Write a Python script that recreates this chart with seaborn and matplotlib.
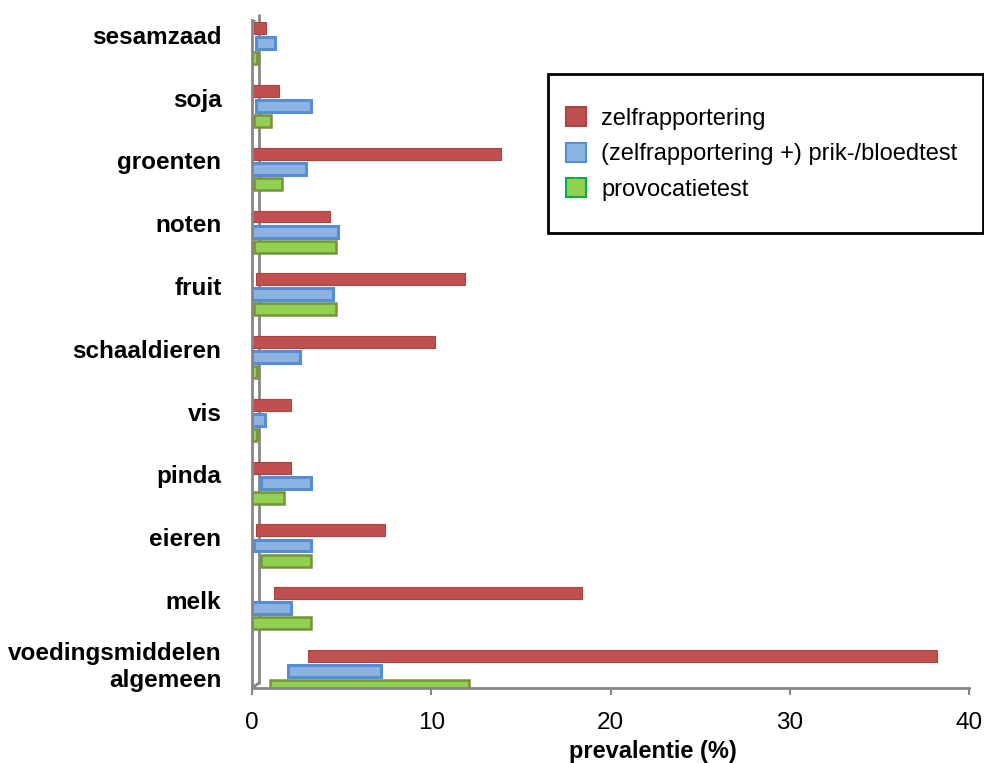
import matplotlib
matplotlib.use("Agg")
import matplotlib.pyplot as plt
import matplotlib.transforms as mtransforms
from matplotlib.patches import Patch, Rectangle
from matplotlib.lines import Line2D
import seaborn as sns
import pandas as pd

# Food categories, top to bottom
categories = ["sesamzaad", "soja", "groenten", "noten", "fruit", "schaaldieren",
              "vis", "pinda", "eieren", "melk", "voedingsmiddelen\nalgemeen"]

methods = ["zelfrapportering", "(zelfrapportering +) prik-/bloedtest", "provocatietest"]

# Prevalence ranges (%) per method: lower and upper bound
self_lo = [0.1, 0.05, 0.05, 0.05, 0.25, 0.05, 0.05, 0.05, 0.2, 1.2, 3.1]
self_hi = [0.8, 1.5, 13.9, 4.35, 11.9, 10.2, 2.2, 2.2, 7.4, 18.4, 38.2]
blood_lo = [0.2, 0.2, 0.0, 0.0, 0.0, 0.0, 0.0, 0.5, 0.1, 0.0, 2.0]
blood_hi = [1.3, 3.3, 3.0, 4.8, 4.5, 2.7, 0.7, 3.3, 3.3, 2.2, 7.2]
prov_lo = [0.0, 0.1, 0.1, 0.1, 0.1, 0.0, 0.0, 0.0, 0.5, 0.0, 1.0]
prov_hi = [0.3, 1.05, 1.7, 4.7, 4.7, 0.3, 0.3, 1.8, 3.3, 3.3, 12.1]

x_ticks = [0, 10, 20, 30, 40]

face_colors = ["#C0504D", "#8DB3E2", "#92D050"]
edge_colors = ["#A84442", "#558ED5", "#76923C"]
edge_widths = [0.8, 2.2, 1.8]
legend_edges = ["#A84442", "#558ED5", "#00B050"]

lows = [self_lo, blood_lo, prov_lo]
highs = [self_hi, blood_hi, prov_hi]

rows = []
for m, lo, hi in zip(methods, lows, highs):
    for c, a, b in zip(categories, lo, hi):
        rows.append({"categorie": c, "methode": m, "start": a, "eind": b})
df = pd.DataFrame(rows)

sns.set_theme(style="white")
plt.rcParams["font.family"] = ["Liberation Sans", "DejaVu Sans"]
plt.rcParams["text.color"] = "black"
plt.rcParams["xtick.color"] = "black"
plt.rcParams["ytick.color"] = "black"
plt.rcParams["axes.labelcolor"] = "black"

fig = plt.figure(figsize=(9.84, 7.63), dpi=100)
W, H = 984, 763
ax = fig.add_axes([252 / W, 1 - 688 / H, (969 - 252) / W, (688 - 20) / H])

# Back wall of the pseudo-3D frame (drawn beneath the bars)
back = ax.transAxes + mtransforms.ScaledTranslation(7 / 100, 5 / 100, fig.dpi_scale_trans)
ax.add_line(Line2D([0, 0], [0.0, 1.0], transform=back, color="#868686",
                   lw=2, clip_on=False, zorder=0.5))

sns.barplot(data=df, x="eind", y="categorie", hue="methode",
            order=categories, hue_order=methods, palette=face_colors,
            saturation=1, width=0.72, orient="h", legend=False, ax=ax)

# Turn the bars into floating range bars (start .. end)
bar_h = 0.19
for k, cont in enumerate(ax.containers):
    for i, p in enumerate(cont.patches):
        cy = p.get_y() + p.get_height() / 2
        p.set_x(lows[k][i])
        p.set_width(highs[k][i] - lows[k][i])
        p.set_y(cy - bar_h / 2)
        p.set_height(bar_h)
        p.set_edgecolor(edge_colors[k])
        p.set_linewidth(edge_widths[k])
        p.set_zorder(2)

ax.set_xlim(0, 40)
ax.set_ylim(10.27, -0.37)
ax.set_xticks(x_ticks)
ax.set_xticklabels([str(t) for t in x_ticks], fontsize=17.5)
ax.set_ylabel("")
ax.set_xlabel("prevalentie (%)", fontsize=17, fontweight="bold")
ax.xaxis.set_label_coords(0.559, -0.078)

ax.tick_params(axis="x", direction="out", length=5, width=1.5, color="#868686",
               pad=12, bottom=True)
ax.tick_params(axis="y", length=0, pad=22)
for lab in ax.get_yticklabels():
    lab.set_fontsize(17.5)
    lab.set_fontweight("bold")
    lab.set_transform(lab.get_transform() +
                      mtransforms.ScaledTranslation(0, 6 / 72, fig.dpi_scale_trans))

for s in ["top", "right"]:
    ax.spines[s].set_visible(False)
for s in ["left", "bottom"]:
    ax.spines[s].set_color("#868686")
    ax.spines[s].set_linewidth(2)

ax.add_line(Line2D([252 / W, 259 / W], [1 - 22 / H, 1 - 17 / H],
                   transform=fig.transFigure, color="#868686", lw=2))
ax.add_line(Line2D([252 / W, 259 / W], [1 - 688 / H, 1 - 683 / H],
                   transform=fig.transFigure, color="#868686", lw=2))

# Legend with its own frame
fig.patches.append(Rectangle((548 / W, 1 - 233 / H), (983 - 548) / W, (233 - 74) / H,
                             transform=fig.transFigure, fill=False,
                             edgecolor="black", lw=2))
handles = [Patch(facecolor=f, edgecolor=e, lw=1.5, label=m)
           for f, e, m in zip(face_colors, legend_edges, methods)]
fig.legend(handles=handles, loc="upper left",
           bbox_to_anchor=(545 / W, 1 - 86 / H), frameon=False, fontsize=17,
           handlelength=0.85, handleheight=0.85, handletextpad=0.62,
           labelspacing=0.55)

fig.savefig("out.png", dpi=100)
